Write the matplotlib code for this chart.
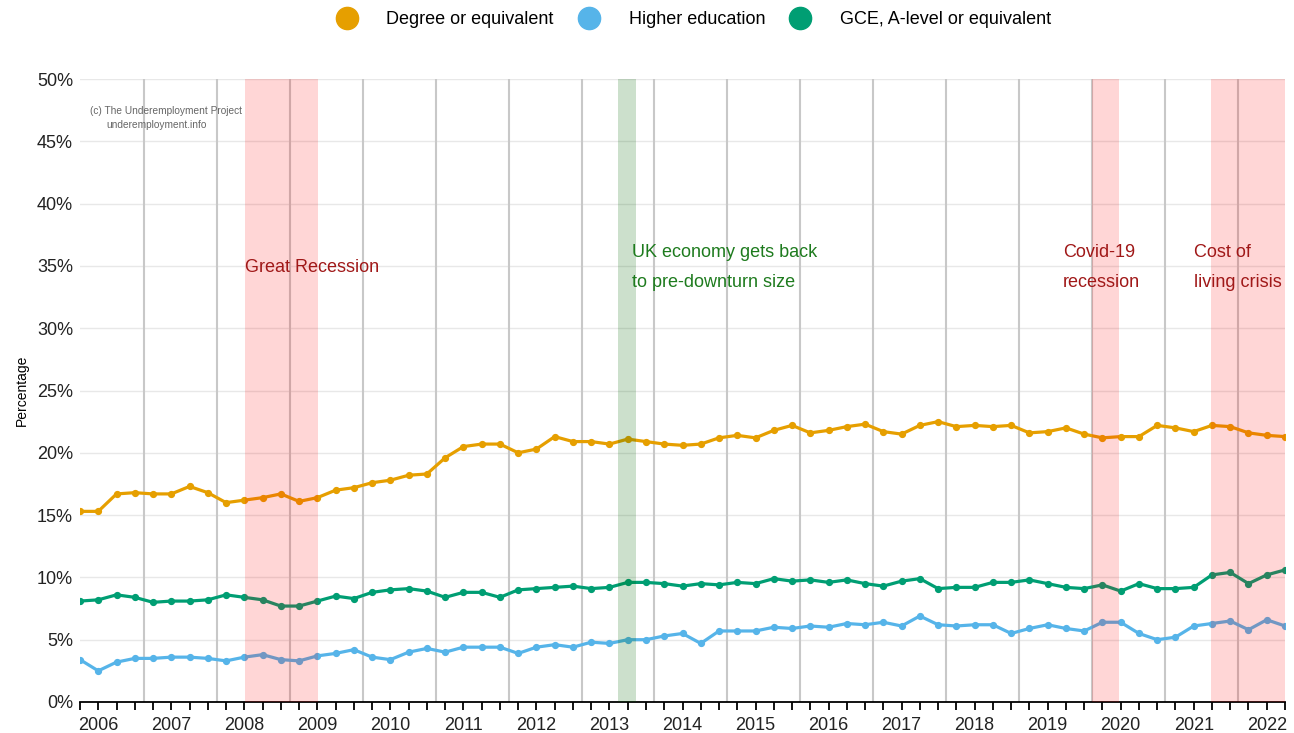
import numpy as np
import pandas as pd
import matplotlib
matplotlib.use('Agg')
import matplotlib.pyplot as plt
from matplotlib.lines import Line2D

plt.rcParams['font.family'] = ['Liberation Sans', 'DejaVu Sans']

# quarterly series, 2006 Q1 .. 2022 Q3
quarters = pd.period_range('2006Q1', '2022Q3', freq='Q')
years = list(range(2006, 2023))

degree = [15.3, 15.3, 16.7, 16.8, 16.7, 16.7, 17.3, 16.8, 16.0, 16.2, 16.4, 16.7, 16.1, 16.4, 17.0, 17.2,
          17.6, 17.8, 18.2, 18.3, 19.6, 20.5, 20.7,
          20.7, 20.0, 20.3, 21.3, 20.9, 20.9, 20.7, 21.1, 20.9, 20.7, 20.6, 20.7, 21.2, 21.4, 21.2, 21.8,
          22.2, 21.6, 21.8, 22.1,
          22.3, 21.7, 21.5, 22.2, 22.5, 22.1, 22.2, 22.1, 22.2, 21.6, 21.7, 22.0, 21.5, 21.2, 21.3, 21.3,
          22.2, 22.0, 21.7, 22.2, 22.1, 21.6, 21.4, 21.3]
higher_ed = [3.4, 2.5, 3.2, 3.5, 3.5, 3.6, 3.6, 3.5, 3.3, 3.6, 3.8, 3.4, 3.3, 3.7, 3.9, 4.2,
             3.6, 3.4, 4.0, 4.3, 4.0, 4.4, 4.4,
             4.4, 3.9, 4.4, 4.6, 4.4, 4.8, 4.7, 5.0, 5.0, 5.3, 5.5, 4.7, 5.7, 5.7, 5.7, 6.0,
             5.9, 6.1, 6.0, 6.3,
             6.2, 6.4, 6.1, 6.9, 6.2, 6.1, 6.2, 6.2, 5.5, 5.9, 6.2, 5.9, 5.7, 6.4, 6.4, 5.5,
             5.0, 5.2, 6.1, 6.3, 6.5, 5.8, 6.6, 6.1]
gce = [8.1, 8.2, 8.6, 8.4, 8.0, 8.1, 8.1, 8.2, 8.6, 8.4, 8.2, 7.7, 7.7, 8.1, 8.5, 8.3,
       8.8, 9.0, 9.1, 8.9, 8.4, 8.8, 8.8,
       8.4, 9.0, 9.1, 9.2, 9.3, 9.1, 9.2, 9.6, 9.6, 9.5, 9.3, 9.5, 9.4, 9.6, 9.5, 9.9,
       9.7, 9.8, 9.6, 9.8,
       9.5, 9.3, 9.7, 9.9, 9.1, 9.2, 9.2, 9.6, 9.6, 9.8, 9.5, 9.2, 9.1, 9.4, 8.9, 9.5,
       9.1, 9.1, 9.2, 10.2, 10.4, 9.5, 10.2, 10.6]

series_names = ['Degree or equivalent', 'Higher education', 'GCE, A-level or equivalent']
series_colors = ['#E69F00', '#56B4E9', '#009E73']

# event bands (in quarters since 2006 Q1)
recessions = [(9.04, 13.03), (55.42, 56.9), (61.94, 66.0)]
recovery = (29.46, 30.45)

x = np.arange(len(quarters))

fig = plt.figure(figsize=(12.94, 7.33), dpi=100)
ax = fig.add_axes([80 / 1294, 31 / 733, 1205 / 1294, 623 / 733])

# year separators
for k in range(len(years) - 1):
    ax.axvline(3.5 + 3.995 * k, color='#c8c8c8', lw=1.5, zorder=1)

for vals, name, col in zip([degree, higher_ed, gce], series_names, series_colors):
    ax.plot(x, vals, color=col, lw=2.3, marker='o', ms=4.2, label=name, zorder=3)

for a, b in recessions:
    ax.axvspan(a, b, color='red', alpha=0.16, lw=0, zorder=4)
ax.axvspan(recovery[0], recovery[1], color='#006400', alpha=0.2, lw=0, zorder=4)

red_txt = '#A01818'
fs = 13
ax.text(9.04, 34.9, 'Great Recession', color=red_txt, fontsize=fs, va='center', zorder=5)
ax.text(30.23, 36.1, 'UK economy gets back', color='#1E7B1E', fontsize=fs, va='center', zorder=5)
ax.text(30.23, 33.7, 'to pre-downturn size', color='#1E7B1E', fontsize=fs, va='center', zorder=5)
ax.text(53.85, 36.1, 'Covid-19', color=red_txt, fontsize=fs, va='center', zorder=5)
ax.text(53.85, 33.7, 'recession', color=red_txt, fontsize=fs, va='center', zorder=5)
ax.text(61.0, 36.1, 'Cost of', color=red_txt, fontsize=fs, va='center', zorder=5)
ax.text(61.0, 33.7, 'living crisis', color=red_txt, fontsize=fs, va='center', zorder=5)

ax.text(0.55, 47.4, '(c) The Underemployment Project', color='#666666', fontsize=7.3, va='center')
ax.text(1.45, 46.3, 'underemployment.info', color='#666666', fontsize=7.3, va='center')

ax.set_xlim(0, len(quarters) - 1)
ax.set_ylim(0, 50)
ax.set_yticks(np.arange(0, 51, 5))
ax.set_yticklabels([f'{v}%' for v in range(0, 51, 5)], fontsize=fs, color='#222222')
ax.grid(axis='y', color='#e8e8e8', lw=1)
ax.set_axisbelow(True)
ax.tick_params(axis='y', length=0, pad=5)

ax.xaxis.remove_overlapping_locs = False
ax.set_xticks(x)
ax.set_xticklabels([])
ax.tick_params(axis='x', which='major', length=6, width=1.3, color='black', direction='out')
ax.set_xticks(1 + 4 * np.arange(len(years)), minor=True)
ax.set_xticklabels([str(y) for y in years], minor=True, fontsize=fs, color='#222222')
ax.tick_params(axis='x', which='minor', length=0, pad=11)

for s in ['top', 'right', 'left']:
    ax.spines[s].set_visible(False)
ax.spines['bottom'].set_color('black')
ax.spines['bottom'].set_linewidth(1.3)

ax.set_ylabel('Percentage', fontsize=10, labelpad=6)

handles = [Line2D([], [], ls='', marker='o', ms=16, color=c) for c in series_colors]
fig.legend(handles, series_names, loc='upper center', bbox_to_anchor=(690 / 1294, 1.007),
           ncol=3, frameon=False, fontsize=fs, handletextpad=1.2, columnspacing=0.95)

fig.savefig('out.png', dpi=100)
